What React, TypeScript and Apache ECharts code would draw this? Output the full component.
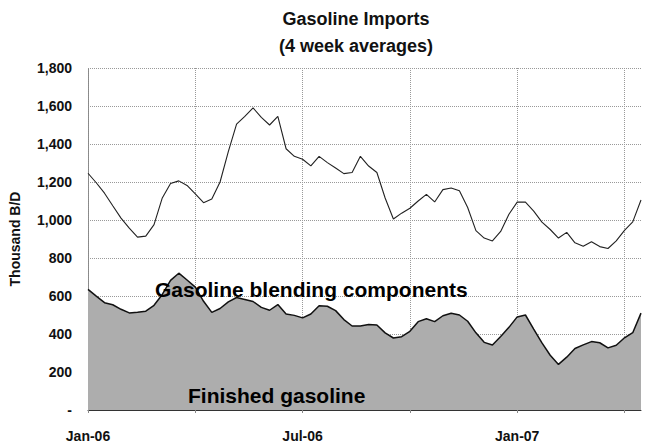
import React, { useEffect, useRef } from 'react';
import * as echarts from 'echarts';

// Total gasoline imports (finished + blending components), thousand B/D, 4-week averages
const totalImports = [
  1246, 1196, 1141, 1075, 1010, 957, 910, 915, 976, 1116, 1192, 1206, 1182, 1138, 1091, 1110,
  1200, 1360, 1505, 1545, 1590, 1540, 1500, 1545, 1375, 1335, 1320, 1285, 1335, 1302, 1274, 1244,
  1250, 1335, 1284, 1250, 1116, 1005, 1036, 1062, 1100, 1135, 1095, 1160, 1168, 1154, 1066, 944,
  905, 890, 940, 1030, 1094, 1094, 1047, 989, 950, 905, 935, 880, 862, 885, 860, 850, 890, 945,
  990, 1105,
];

// Finished gasoline imports, thousand B/D
const finishedGasoline = [
  635, 599, 565, 554, 530, 511, 515, 520, 551, 608, 682, 720, 684, 647, 572, 514,
  534, 569, 592, 582, 571, 540, 525, 555, 505, 498, 485, 505, 549, 546, 523, 476,
  442, 442, 450, 447, 406, 379, 386, 414, 465, 480, 465, 496, 509, 500, 467, 406,
  356, 342, 387, 435, 490, 500, 426, 353, 288, 240, 278, 324, 343, 360, 354, 327,
  341, 380, 407, 510,
];

const tickIndices = [0, 26, 52];
const tickLabels = ['Jan-06', 'Jul-06', 'Jan-07'];
const gridEvery = 13;

const startDate = new Date(Date.UTC(2006, 0, 6));
const weeks: string[] = totalImports.map((_, i) => {
  const d = new Date(startDate.getTime() + i * 7 * 86400000);
  return d.toISOString().slice(0, 10);
});

const FONT = '"Liberation Sans", Arial, Helvetica, sans-serif';

export default function App() {
  const ref = useRef<HTMLDivElement>(null);
  useEffect(() => {
    if (!ref.current) return;
    const chart = echarts.init(ref.current, undefined, { renderer: 'svg' });
    chart.setOption({
      animation: false,
      backgroundColor: '#ffffff',
      textStyle: { fontFamily: FONT },
      grid: { left: 88, right: 4, top: 68, bottom: 35, containLabel: false },
      xAxis: {
        type: 'category',
        data: weeks,
        boundaryGap: false,
        axisLine: { show: true, lineStyle: { color: '#333', width: 1 } },
        axisTick: {
          show: true,
          length: 3,
          interval: (i: number) => i % gridEvery === 0,
          lineStyle: { color: '#888' },
        },
        axisLabel: {
          interval: (i: number) => tickIndices.includes(i),
          formatter: (_v: string, i: number) => {
            const k = tickIndices.indexOf(i);
            return k >= 0 ? tickLabels[k] : '';
          },
          margin: 19,
          color: '#111',
          fontSize: 14,
          fontWeight: 'bold',
          fontFamily: FONT,
        },
        splitLine: {
          show: true,
          interval: (i: number) => i % gridEvery === 0,
          lineStyle: { color: '#999', type: 'dotted', width: 1 },
        },
      },
      yAxis: {
        type: 'value',
        min: 0,
        max: 1800,
        interval: 200,
        name: 'Thousand B/D',
        nameLocation: 'middle',
        nameRotate: 90,
        nameGap: 66,
        nameTextStyle: { color: '#111', fontSize: 14, fontWeight: 'bold', fontFamily: FONT },
        axisLine: { show: true, lineStyle: { color: '#888', type: 'dotted' } },
        axisTick: { show: false },
        axisLabel: {
          margin: 16,
          color: '#111',
          fontSize: 14,
          fontWeight: 'bold',
          fontFamily: FONT,
          formatter: (v: number) => (v === 0 ? '-' : v.toLocaleString('en-US')),
        },
        splitLine: { show: true, lineStyle: { color: '#999', type: 'dotted', width: 1 } },
      },
      series: [
        {
          name: 'Finished gasoline',
          type: 'line',
          data: finishedGasoline,
          symbol: 'none',
          lineStyle: { color: '#111', width: 1.5 },
          areaStyle: { color: '#adadad', opacity: 1 },
          z: 2,
        },
        {
          name: 'Total',
          type: 'line',
          data: totalImports,
          symbol: 'none',
          lineStyle: { color: '#222', width: 1.1 },
          z: 3,
        },
      ],
      graphic: [
        {
          type: 'text',
          x: 356,
          y: 19,
          style: {
            text: 'Gasoline Imports',
            font: `bold 18px ${FONT}`,
            fill: '#111',
            textAlign: 'center',
            textVerticalAlign: 'middle',
          },
        },
        {
          type: 'text',
          x: 356,
          y: 46,
          style: {
            text: '(4 week averages)',
            font: `bold 18px ${FONT}`,
            fill: '#111',
            textAlign: 'center',
            textVerticalAlign: 'middle',
          },
        },
        {
          type: 'text',
          x: 155,
          y: 289,
          z: 10,
          style: {
            text: 'Gasoline blending components',
            font: `bold 21px ${FONT}`,
            fill: '#000',
            textAlign: 'left',
            textVerticalAlign: 'middle',
          },
        },
        {
          type: 'text',
          x: 188,
          y: 395,
          z: 10,
          style: {
            text: 'Finished gasoline',
            font: `bold 21px ${FONT}`,
            fill: '#000',
            textAlign: 'left',
            textVerticalAlign: 'middle',
          },
        },
      ],
    });
    return () => chart.dispose();
  }, []);
  return (
    <div
      ref={ref}
      style={{ position: 'fixed', left: 0, top: 0, width: 645, height: 445 }}
    />
  );
}
